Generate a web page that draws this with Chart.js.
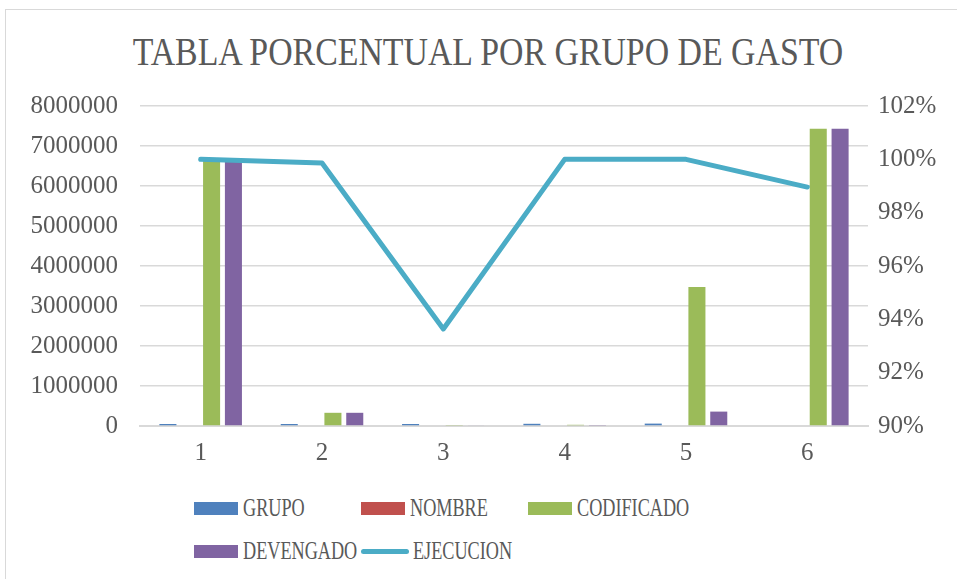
<!DOCTYPE html>
<html>
<head>
<meta charset="utf-8">
<script src="https://cdn.jsdelivr.net/npm/chart.js@4"></script>
<style>
  body { margin: 0; background: #fff; }
  #wrap { position: relative; width: 957px; height: 579px; overflow: hidden; background: #fff; }
  #frame { position: absolute; left: 5px; top: 9px; width: 1000px; height: 600px; border: 1px solid #d9d9d9; }
  #chartBox { position: absolute; left: 0; top: 0; width: 957px; height: 480px; }
  #title { position: absolute; left: 0; top: 31px; width: 976px; text-align: center;
    font: 41px "Liberation Serif", serif; line-height: 41px; color: #595959;
    transform: scaleX(0.825); white-space: nowrap; }
  #legend { position: absolute; left: 194px; top: 495px; display: grid;
    grid-template-columns: 167px 167px 167px; grid-auto-rows: 43px; }
  .item { display: flex; align-items: center; height: 26px; }
  .sw { width: 44px; height: 13px; margin-right: 5px; flex: none; }
  .ln { width: 48px; height: 5px; border-radius: 3px; margin-right: 4px; flex: none; }
  .txt { font: 26px "Liberation Serif", serif; line-height: 26px; color: #595959;
    display: inline-block; transform: scaleX(0.7); transform-origin: left center; white-space: nowrap; }
</style>
</head>
<body>
<div id="wrap">
  <div id="frame"></div>
  <div id="title">TABLA PORCENTUAL POR GRUPO DE GASTO</div>
  <div id="chartBox"><canvas id="gastoChart" width="957" height="480"></canvas></div>
  <div id="legend"></div>
</div>
<script>
const categorias = ["1", "2", "3", "4", "5", "6"];
const grupo = [50000, 50000, 50000, 55000, 60000, 0];
const nombre = [0, 0, 0, 0, 0, 0];
const codificado = [6650000, 330000, 25000, 30000, 3475000, 7430000];
const devengado = [6650000, 330000, 20000, 25000, 360000, 7430000];
const ejecucion = [1.0, 0.9986, 0.9364, 1.0, 1.0, 0.9896];

const gris = "#595959";
const fuenteTicks = { family: "'Liberation Serif', serif", size: 25 };

const ctx = document.getElementById("gastoChart").getContext("2d");

const chart = new Chart(ctx, {
  type: "bar",
  data: {
    labels: categorias,
    datasets: [
      { label: "GRUPO", data: grupo, backgroundColor: "#4f81bd", order: 1 },
      { label: "NOMBRE", data: nombre, backgroundColor: "#c0504d", order: 1 },
      { label: "CODIFICADO", data: codificado, backgroundColor: "#9bbb59", order: 1 },
      { label: "DEVENGADO", data: devengado, backgroundColor: "#8064a2", order: 1 },
      {
        label: "EJECUCION",
        type: "line",
        data: ejecucion,
        yAxisID: "y1",
        borderColor: "#4bacc6",
        backgroundColor: "#4bacc6",
        borderWidth: 5,
        pointRadius: 0,
        tension: 0,
        borderCapStyle: "round",
        borderJoinStyle: "round",
        order: 0,
      },
    ],
  },
  options: {
    responsive: false,
    animation: false,
    categoryPercentage: 0.72,
    barPercentage: 0.78,
    layout: { padding: { top: 106, left: 0, right: 0, bottom: 0 } },
    plugins: {
      legend: { display: false },
      title: { display: false },
      tooltip: { enabled: false },
    },
    scales: {
      x: {
        grid: { display: false, drawTicks: false },
        border: { color: "#d9d9d9", width: 2 },
        ticks: { color: gris, font: fuenteTicks, padding: 12 },
        afterFit: (s) => { s.height = 54; },
      },
      y: {
        position: "left",
        min: 0,
        max: 8000000,
        ticks: {
          stepSize: 1000000,
          color: gris,
          font: fuenteTicks,
          padding: 22,
          callback: (v) => String(v),
        },
        grid: { color: "#d9d9d9", lineWidth: 1.5, drawTicks: false },
        border: { display: false },
        afterFit: (s) => { s.width = 140; },
      },
      y1: {
        position: "right",
        min: 0.9,
        max: 1.02,
        ticks: {
          stepSize: 0.02,
          color: gris,
          font: fuenteTicks,
          padding: 10,
          callback: (v) => Math.round(v * 100) + "%",
        },
        grid: { display: false, drawTicks: false },
        border: { display: false },
        afterFit: (s) => { s.width = 89; },
      },
    },
  },
});

// leyenda en html, en columnas como la de Excel
const legend = document.getElementById("legend");
chart.data.datasets.forEach((ds) => {
  const item = document.createElement("div");
  item.className = "item";
  const sw = document.createElement("span");
  sw.className = ds.type === "line" ? "ln" : "sw";
  sw.style.background = ds.type === "line" ? ds.borderColor : ds.backgroundColor;
  const txt = document.createElement("span");
  txt.className = "txt";
  txt.textContent = ds.label;
  item.appendChild(sw);
  item.appendChild(txt);
  legend.appendChild(item);
});
</script>
</body>
</html>
